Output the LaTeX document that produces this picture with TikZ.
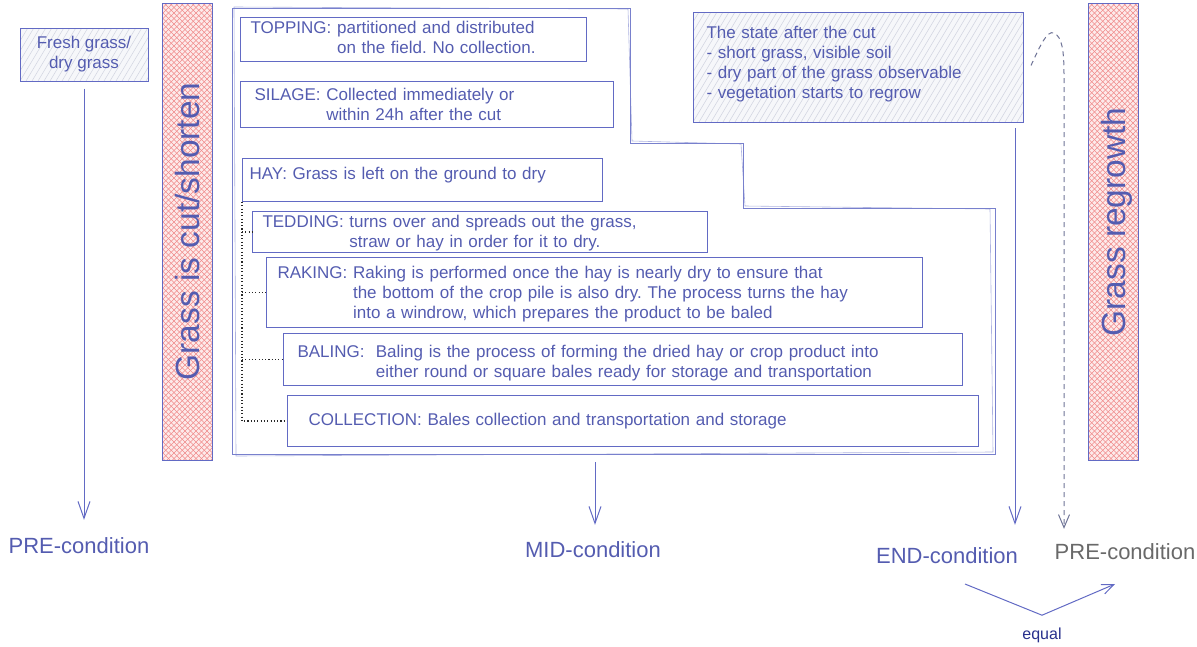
\documentclass[tikz,border=0pt]{standalone}
\usepackage{fontspec}
\setmainfont{Liberation Sans}
\usetikzlibrary{arrows.meta}
\frenchspacing

\definecolor{linec}{RGB}{98,106,196}
\definecolor{framec}{RGB}{120,128,205}
\definecolor{textc}{RGB}{84,92,176}
\definecolor{eqtext}{RGB}{40,48,140}
\definecolor{greyc}{RGB}{105,105,105}
\definecolor{dashc}{RGB}{110,115,150}
\definecolor{treec}{RGB}{40,40,40}
\definecolor{pinkbg}{RGB}{253,234,234}
\definecolor{pinkln}{RGB}{240,138,138}
\definecolor{greybg}{RGB}{246,247,250}
\definecolor{greyln}{RGB}{208,211,224}

\newcommand\boxfont{\fontsize{17pt}{20pt}\selectfont}
\newcommand\labfont{\fontsize{22pt}{26pt}\selectfont}
\newcommand\barfont{\fontsize{33.5pt}{40pt}\selectfont}

% red cross-hatched fill of a bar: x1 y1 x2 y2
\newcommand\crosshatch[4]{%
  \begin{scope}
    \clip (#1,#2) rectangle (#3,#4);
    \fill[pinkbg] (#1,#2) rectangle (#3,#4);
    \foreach \hx in {0,5.5,...,520}{
      \draw[pinkln, line width=0.55pt] ({#1-460+\hx},#2) -- ++(460,460);
      \draw[pinkln, line width=0.55pt] ({#1+\hx},#2) -- ++(-460,460);
    }
  \end{scope}}

% light grey single-hatched fill of a box: x1 y1 x2 y2
\newcommand\greyhatch[4]{%
  \begin{scope}
    \clip (#1,#2) rectangle (#3,#4);
    \fill[greybg] (#1,#2) rectangle (#3,#4);
    \foreach \hx in {-90,-84,...,340}{
      \draw[greyln, line width=0.5pt] ({#1+\hx},#4) -- ++(72,-120);
    }
  \end{scope}}

\begin{document}
\begin{tikzpicture}[x=1pt,y=-1pt,
  box/.style={draw=linec, line width=1pt, text=textc, font=\boxfont},
  stagebox/.style={box, anchor=north west, inner ysep=0pt},
  barnode/.style={draw=linec, line width=1pt, text=textc, font=\barfont,
    rotate=90, minimum width=457pt, minimum height=50pt, inner sep=0pt,
    text depth=0pt},
  cond/.style={font=\labfont, text=textc, inner sep=0pt, anchor=base},
  arr/.style={draw=linec, line width=1pt,
    -{Straight Barb[length=17pt,width=12pt]}},
  tree/.style={draw=treec, line width=1.1pt, dash pattern=on 1.1pt off 2.2pt},
  outline/.style={draw=framec, line width=1pt},
]
\useasboundingbox (0,0) rectangle (1197,646);

% starting state
\greyhatch{20}{28}{148}{81}
\node[box, minimum width=128pt, minimum height=53pt, align=center,
  inner sep=0pt] (fresh) at (84,54.5) {Fresh grass/\\dry grass};

% the two phase bars
\crosshatch{162}{3}{212}{460}
\node[barnode] (cut) at (187,231.5) {Grass is cut/shorten};
\crosshatch{1088}{3}{1138}{460}
\node[barnode] (regrow) at (1113,231.5) {\hspace*{19pt}Grass regrowth};

% frame around the treatment options, sketched with a doubled stroke
\draw[outline] (232,8) -- (630,8) -- (630,143) -- (743,143) -- (743,208)
  -- (995,208) -- (995,454) -- (232,454) -- cycle;
\draw[outline, line width=0.6pt, opacity=0.6] (234,7) -- (628,9) -- (632,141)
  -- (741,144) -- (745,206) -- (990,209) -- (993,452) -- (236,456) -- cycle;

% treatment options
\node[stagebox, inner xsep=10pt, text width=326pt, text height=16pt,
  text depth=28pt] (topping) at (240,17)
  {\begin{tabular}[t]{@{}l@{}l@{}}TOPPING: & \ partitioned and distributed\\
   & \ on the field. No collection.\end{tabular}};
\node[stagebox, inner xsep=14pt, text width=345pt, text height=19pt,
  text depth=27pt] (silage) at (240,81)
  {\begin{tabular}[t]{@{}l@{}l@{}}SILAGE: & \ Collected immediately or\\
   & \ within 24h after the cut\end{tabular}};
\node[stagebox, inner xsep=7pt, text width=346pt, text height=21pt,
  text depth=22pt] (hay) at (242,158)
  {HAY: Grass is left on the ground to dry};
\node[stagebox, inner xsep=10pt, text width=435pt, text height=16pt,
  text depth=25pt] (tedding) at (252,211)
  {\begin{tabular}[t]{@{}l@{}l@{}}TEDDING: & \ turns over and spreads out the grass,\\
   & \ straw or hay in order for it to dry.\end{tabular}};
\node[stagebox, inner xsep=11pt, text width=634pt, text height=21pt,
  text depth=49pt] (raking) at (266,257)
  {\begin{tabular}[t]{@{}l@{}l@{}}RAKING: & \ Raking is performed once the hay is nearly dry to ensure that\\
   & \ the bottom of the crop pile is also dry. The process turns the hay\\
   & \ into a windrow, which prepares the product to be baled\end{tabular}};
\node[stagebox, inner xsep=14pt, text width=651pt, text height=24pt,
  text depth=28pt] (baling) at (283,333)
  {\begin{tabular}[t]{@{}l@{}l@{}}BALING: & \ \ Baling is the process of forming the dried hay or crop product into\\
   & \ \ either round or square bales ready for storage and transportation\end{tabular}};
\node[stagebox, inner xsep=21pt, text width=649pt, text height=30pt,
  text depth=21pt] (collection) at (287,395)
  {COLLECTION: Bales collection and transportation and storage};

% hay sub-steps
\draw[tree] (hay.south west) -- (hay.south west |- collection.west)
  -- (collection.west);
\foreach \s in {tedding,raking,baling}
  \draw[tree] (hay.south west |- \s.west) -- (\s.west);

% state after the cut
\greyhatch{693}{12}{1023}{122}
\node[stagebox, inner xsep=13pt, text width=304pt, text height=26pt,
  text depth=84pt] (state) at (693,12)
  {\begin{tabular}[t]{@{}l@{}}The state after the cut\\
   - short grass, visible soil\\
   - dry part of the grass observable\\
   - vegetation starts to regrow\end{tabular}};

% condition labels
\node[cond] (pre1) at (79,553) {PRE-condition};
\node[cond] (mid) at (593,557) {MID-condition};
\node[cond] (endc) at (947,563) {END-condition};
\node[cond, text=greyc] (pre2) at (1125,559) {PRE-condition};
\node[font=\fontsize{16pt}{18pt}\selectfont, text=eqtext, inner sep=0pt,
  anchor=base] (equal) at (1042,639) {equal};

% connectors
\draw[arr, shorten <=7pt, shorten >=17pt] (fresh.south) -- (fresh.south |- pre1.north);

\coordinate (stagesfoot) at (595,454);
\draw[arr, shorten <=8pt, shorten >=16pt] (stagesfoot) -- (stagesfoot |- mid.north);

\coordinate (stateout) at ([xshift=-9pt]state.south east);
\draw[arr, shorten <=5pt, shorten >=22pt] (stateout) -- (stateout |- endc.north);

\coordinate (loopstart) at ([xshift=7pt,yshift=2pt]state.east);
\coordinate (dashfoot) at (1064,75);
\draw[dashc, line width=1pt, dash pattern=on 5pt off 4pt,
  -{Straight Barb[length=13pt,width=11pt]}, shorten >=14pt]
  (loopstart) .. controls (1040,46) and (1047,30) .. (1054,33)
  .. controls (1062,37) and (1064,50) .. (dashfoot)
  -- (dashfoot |- pre2.north);

\coordinate (eqstart) at ([xshift=18pt,yshift=-21pt]endc.base);
\coordinate (eqmid) at ([yshift=12pt]equal.north);
\coordinate (eqend) at ([xshift=-10pt,yshift=-25pt]pre2.base);
\draw[draw=linec, line width=1pt, -{Straight Barb[length=12pt,width=10pt]}]
  (eqstart) -- (eqmid) -- (eqend);
\end{tikzpicture}
\end{document}
